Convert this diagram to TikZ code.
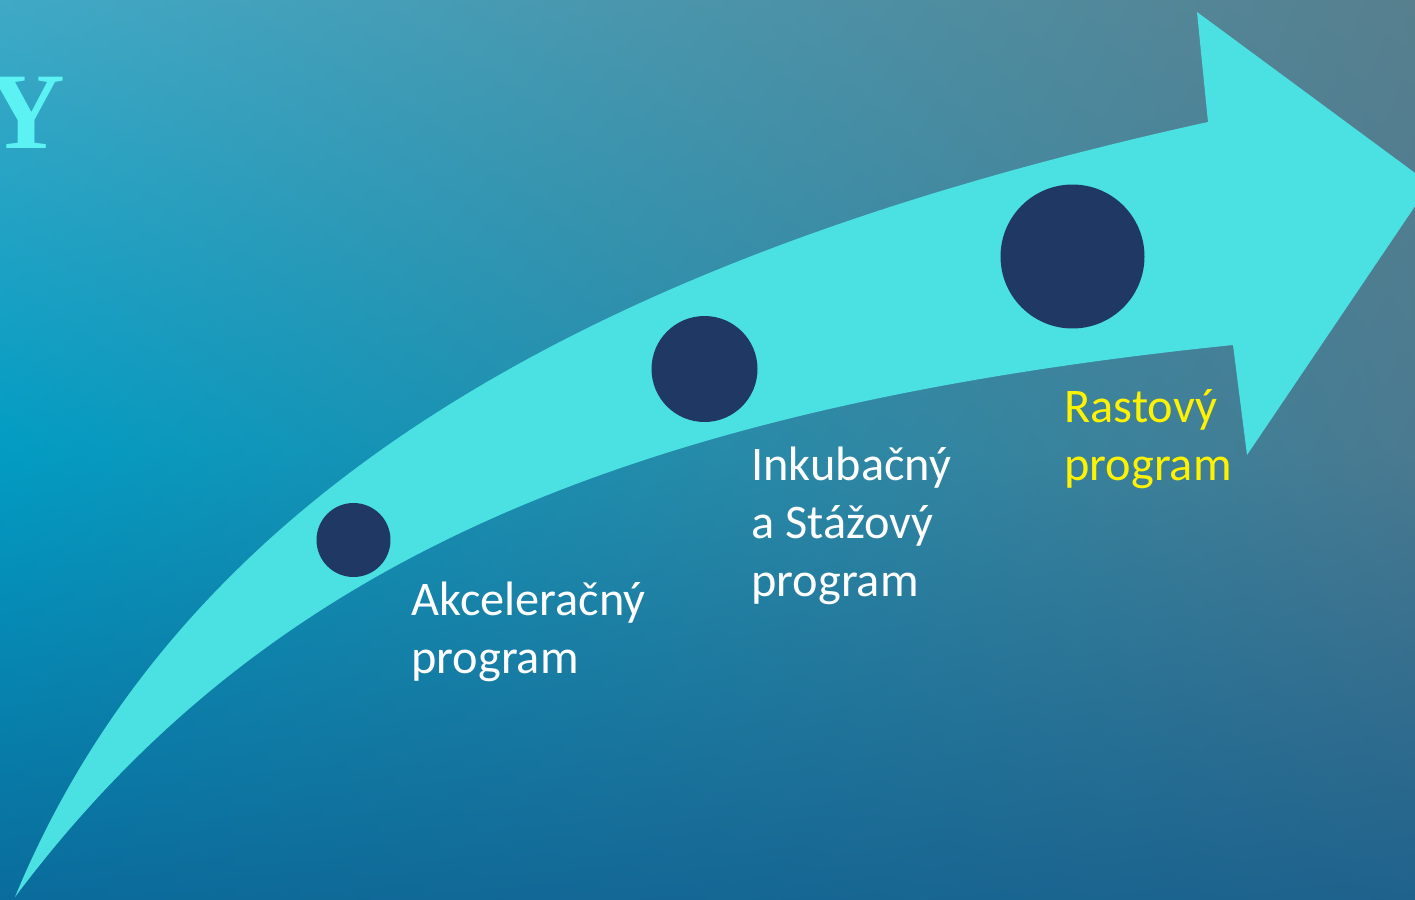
\documentclass[tikz,border=0pt]{standalone}
\usepackage{fontspec}
\setmainfont{Carlito}
\newfontfamily\titlefont{Liberation Serif}
\usetikzlibrary{shadings}
\definecolor{arrowcyan}{HTML}{4BE0E2}
\definecolor{dotnavy}{HTML}{203864}
\definecolor{titlecyan}{HTML}{5CF2F4}
\definecolor{bgUL}{HTML}{3FA9C6}
\definecolor{bgUR}{HTML}{577F8E}
\definecolor{bgML}{HTML}{029CC3}
\definecolor{bgMR}{HTML}{4A7A90}
\definecolor{bgLL}{HTML}{0A6C9C}
\definecolor{bgLR}{HTML}{1F628C}
\begin{document}
\begin{tikzpicture}[x=0.02cm, y=0.02cm,
    dot/.style={circle, fill=dotnavy, inner sep=0pt},
    lbl/.style={anchor=base west, align=left, inner sep=0pt, text=white,
                font=\fontsize{27.5}{33}\selectfont}]
        \useasboundingbox (0,0) rectangle (1415,-899);
        \clip (0,0) rectangle (1415,-899);
        % background
        \shade[upper left=bgUL, upper right=bgUR, lower left=bgML, lower right=bgMR]
            (0,0) rectangle (1415,-450);
        \shade[upper left=bgML, upper right=bgMR, lower left=bgLL, lower right=bgLR]
            (0,-450) rectangle (1415,-899);
        \node[anchor=base east, inner sep=0pt, text=titlecyan,
              font=\titlefont\bfseries\fontsize{62}{62}\selectfont] (title) at (66,-148) {Y};
        % curved arrow
        \fill[arrowcyan] (15,-897) .. controls (186,-483) and (608,-254) .. (1208,-122)
            -- (1197,-12) -- (1430,-184) -- (1247,-455) -- (1233,-345)
            .. controls (600,-410) and (255,-577) .. (15,-897) -- cycle;
        % stages (base = last line)
        \node[dot, minimum size=1.48cm] (akc) at (353.5,-540) {};
        \node[dot, minimum size=2.12cm] (ink) at (704.5,-369) {};
        \node[dot, minimum size=2.88cm] (ras) at (1072.5,-256.5) {};
        \node[lbl] (akclbl) at (411,-673) {Akceleračný\\program};
        \node[lbl] (inklbl) at (751,-596) {Inkubačný\\a Stážový\\program};
        \node[lbl, text=yellow] (raslbl) at (1064,-480) {Rastový\\program};
\end{tikzpicture}
\end{document}
